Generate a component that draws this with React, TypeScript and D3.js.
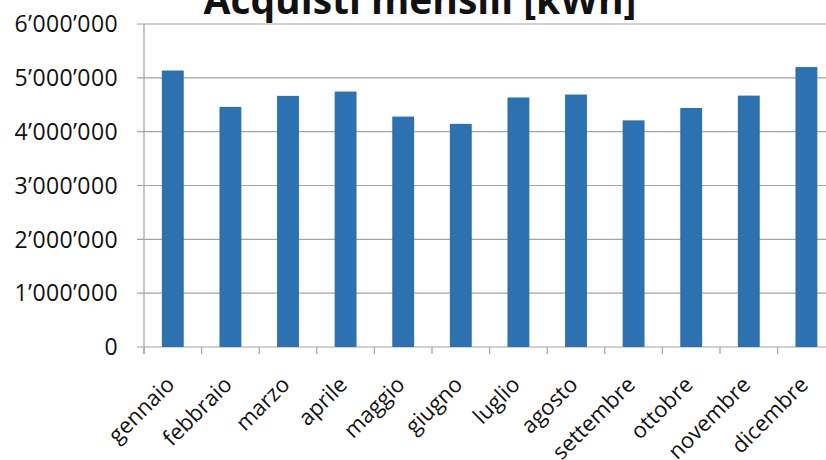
import React from "react";
import * as d3 from "d3";

const months = ["gennaio","febbraio","marzo","aprile","maggio","giugno","luglio","agosto","settembre","ottobre","novembre","dicembre"];
const values = [5136000, 4460000, 4665000, 4745000, 4280000, 4145000, 4635000, 4690000, 4210000, 4440000, 4670000, 5200000];
const yTicks = [0, 1000000, 2000000, 3000000, 4000000, 5000000, 6000000];
const title = "Acquisti mensili [kWh]";

const W = 826, H = 460;
const left = 144, right = 835.2, top = 24, bottom = 347;
const font = "'Open Sans', 'Liberation Sans', sans-serif";
const barColor = "#2e71b1";
const gridColor = "#a3a3a3";

const fmt = (v: number) => d3.format(",")(v).replace(/,/g, "\u2019");

export default function App() {
  const x = d3.scaleBand<string>().domain(months).range([left, right]).paddingInner(0.62).paddingOuter(0.31);
  const y = d3.scaleLinear().domain([0, 6000000]).range([bottom, top]);
  const step = x.step();
  const boundaries = d3.range(months.length + 1).map(i => left + i * step);
  return (
    <svg width={W} height={H} style={{ position: "absolute", left: 0, top: 0, background: "#fff" }}>
      <text x={420} y={14} textAnchor="middle" fontFamily={font} fontWeight={700} fontSize={39} fill="#111">{title}</text>
      {yTicks.map(t => (
        <g key={t}>
          <line x1={137} x2={W} y1={y(t)} y2={y(t)} stroke={gridColor} strokeWidth={1.2} />
          <text x={118} y={y(t)} dy="0.36em" textAnchor="end" fontFamily={font} fontSize={23} letterSpacing={0.4} fill="#111">{fmt(t)}</text>
        </g>
      ))}
      <line x1={left} x2={left} y1={top} y2={bottom + 7} stroke={gridColor} strokeWidth={1.2} />
      {boundaries.map((b, i) => (
        <line key={i} x1={b} x2={b} y1={bottom} y2={bottom + 7} stroke={gridColor} strokeWidth={1.2} />
      ))}
      {months.map((m, i) => (
        <rect key={m} x={x(m)} y={y(values[i])} width={x.bandwidth()} height={y(0) - y(values[i])} fill={barColor} />
      ))}
      {months.map(m => {
        const cx = (x(m) as number) + x.bandwidth() / 2 + 3;
        const cy = 386;
        return (
          <text key={m} x={cx} y={cy} transform={`rotate(-45, ${cx}, ${cy})`} textAnchor="end" fontFamily={font} fontSize={22} fill="#111">{m}</text>
        );
      })}
    </svg>
  );
}
